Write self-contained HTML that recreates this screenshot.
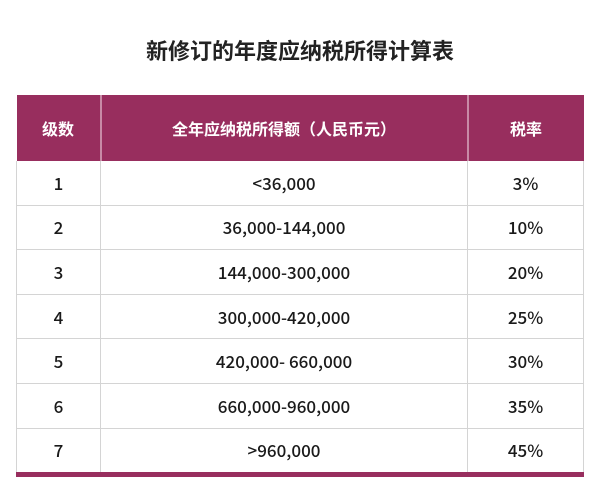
<!DOCTYPE html>
<html><head><meta charset="utf-8"><style>
body{margin:0;width:600px;height:502px;background:#fff;font-family:"Noto Sans CJK SC",sans-serif;position:relative;overflow:hidden}
.t{position:absolute;top:32px;left:0;width:600px;text-align:center;font-size:22px;font-weight:bold;color:#222;line-height:36px}
table{position:absolute;left:16px;top:95px;width:567px;border-collapse:collapse;table-layout:fixed}
th{background:#982e5e;color:#fff;height:66px;font-size:16px;font-weight:bold;border-left:2px solid #c88aa6;padding:0;line-height:20px}
th:first-child{border-left:none}
td{height:43.6px;text-align:center;font-size:17px;font-weight:500;color:#1a1a1a;border-bottom:1px solid #d4d4d4;border-left:1px solid #d4d4d4;padding:0;line-height:20px}
td:last-child{border-right:1px solid #d4d4d4}
tr:last-child td{border-bottom:5px solid #982e5e}
</style></head><body>
<div class="t">新修订的年度应纳税所得计算表</div>
<table>
<colgroup><col style="width:84px"><col style="width:367px"><col style="width:116px"></colgroup>
<tr><th>级数</th><th>全年应纳税所得额（人民币元）</th><th>税率</th></tr>
<tr><td>1</td><td>&lt;36,000</td><td>3%</td></tr>
<tr><td>2</td><td>36,000-144,000</td><td>10%</td></tr>
<tr><td>3</td><td>144,000-300,000</td><td>20%</td></tr>
<tr><td>4</td><td>300,000-420,000</td><td>25%</td></tr>
<tr><td>5</td><td>420,000- 660,000</td><td>30%</td></tr>
<tr><td>6</td><td>660,000-960,000</td><td>35%</td></tr>
<tr><td>7</td><td>&gt;960,000</td><td>45%</td></tr>
</table>
</body></html>
